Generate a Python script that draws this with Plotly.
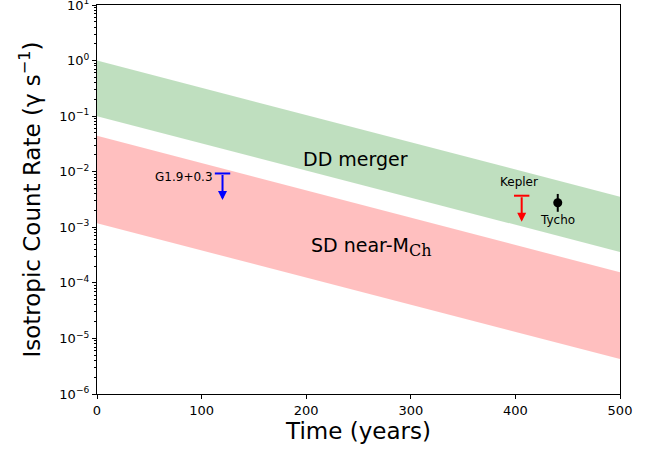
import math
import plotly.graph_objects as go

# ---- data ----
band_t = [0, 500]
dd_upper = [1.0, 3.55e-3]
dd_lower = [0.1, 3.6e-4]
sd_upper = [4.46e-2, 1.55e-4]
sd_lower = [1.18e-3, 4.27e-6]

limit_names = ["G1.9+0.3", "Kepler"]
limit_ages = [120, 406]
limit_values = [9.3e-3, 3.7e-3]
limit_tips = [3.1e-3, 1.26e-3]
limit_colors = ["blue", "red"]

tycho_age = [440.5]
tycho_rate = [2.76e-3]
tycho_err_plus = [1.22e-3]
tycho_err_minus = [0.86e-3]

ytick_exps = [1, 0, -1, -2, -3, -4, -5, -6]
xtick_vals = [0, 100, 200, 300, 400, 500]

FONT = "DejaVu Sans"

fig = go.Figure()

def band(upper, lower, color):
    fig.add_trace(go.Scatter(
        x=band_t + band_t[::-1], y=upper + lower[::-1],
        fill="toself", fillcolor=color, mode="lines",
        line=dict(width=0), hoverinfo="skip", showlegend=False))

band(dd_upper, dd_lower, "rgba(0,128,0,0.25)")
band(sd_upper, sd_lower, "rgba(255,0,0,0.25)")

# upper limits: caps + arrows
for name, t, v, tip, c in zip(limit_names, limit_ages, limit_values, limit_tips, limit_colors):
    fig.add_trace(go.Scatter(
        x=[t], y=[v], mode="markers",
        marker=dict(symbol="line-ew", size=11, line=dict(color=c, width=2)),
        showlegend=False, hoverinfo="skip"))
    fig.add_annotation(
        x=t, y=math.log10(tip), ax=t, ay=math.log10(v),
        xref="x", yref="y", axref="x", ayref="y",
        showarrow=True, arrowhead=2, arrowsize=0.9, arrowwidth=2,
        arrowcolor=c, text="")

# Tycho detection
fig.add_trace(go.Scatter(
    x=tycho_age, y=tycho_rate, mode="markers",
    marker=dict(symbol="circle", size=9, color="black"),
    error_y=dict(type="data", array=tycho_err_plus, arrayminus=tycho_err_minus,
                 color="black", thickness=2, width=0),
    showlegend=False, hoverinfo="skip"))

# labels
fig.add_annotation(x=limit_ages[0], y=math.log10(limit_values[0]), text="G1.9+0.3",
                   showarrow=False, xanchor="right", yanchor="middle", xshift=-8, yshift=-4,
                   font=dict(family=FONT, size=12, color="black"))
fig.add_annotation(x=limit_ages[1], y=math.log10(limit_values[1]), text="Kepler",
                   showarrow=False, xanchor="center", yanchor="bottom", yshift=5, xshift=-3,
                   font=dict(family=FONT, size=12, color="black"))
fig.add_annotation(x=tycho_age[0], y=math.log10(tycho_rate[0]), text="Tycho",
                   showarrow=False, xanchor="center", yanchor="top", yshift=-8,
                   font=dict(family=FONT, size=12, color="black"))
fig.add_annotation(x=247, y=math.log10(1.7e-2), text="DD merger",
                   showarrow=False, xanchor="center", yanchor="middle",
                   font=dict(family=FONT, size=19, color="black"))
fig.add_annotation(x=262, y=math.log10(4.5e-4),
                   text="SD near-M<sub><span style='font-family:DejaVu Serif;font-size:16px'>Ch</span></sub>",
                   showarrow=False, xanchor="center", yanchor="middle",
                   font=dict(family=FONT, size=19, color="black"))

minor_vals = [k * 10.0 ** e for e in range(-6, 1) for k in range(2, 10)]

fig.update_xaxes(
    range=[0, 500], tickvals=xtick_vals, ticks="outside", ticklen=4, tickwidth=1,
    tickcolor="black", showline=True, linecolor="black", linewidth=1.2, mirror=True,
    showgrid=False, zeroline=False, automargin=False,
    tickfont=dict(family=FONT, size=13, color="black"),
    title=dict(text="Time (years)", font=dict(family=FONT, size=23, color="black"), standoff=4))
fig.update_yaxes(
    type="log", range=[-6, 1], automargin=False, ticklabeloverflow="allow",
    tickvals=[10.0 ** e for e in ytick_exps],
    ticktext=["10<sup>%s</sup>" % (str(e).replace("-", "\u2212")) for e in ytick_exps],
    ticks="outside", ticklen=4, tickwidth=1, tickcolor="black",
    minor=dict(tickvals=minor_vals, ticks="outside", ticklen=2, tickcolor="black"),
    showline=True, linecolor="black", linewidth=1.2, mirror=True,
    showgrid=False, zeroline=False,
    tickfont=dict(family=FONT, size=13, color="black"),
    title=dict(text="Isotropic Count Rate (\u03b3 s<sup>\u22121</sup>)",
               font=dict(family=FONT, size=23, color="black"), standoff=12))

fig.update_layout(
    width=654, height=450, margin=dict(l=97, r=34, t=5, b=56),
    plot_bgcolor="white", paper_bgcolor="white", showlegend=False)

fig.write_html("out.html", config={"displayModeBar": False},
               post_script="document.body.style.margin='0';document.body.style.overflow='hidden';")
